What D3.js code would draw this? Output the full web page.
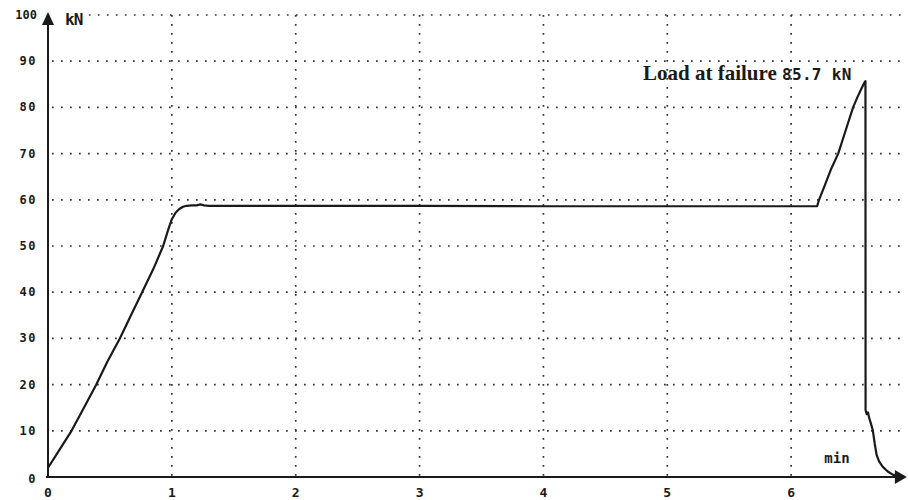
<!DOCTYPE html>
<html>
<head>
<meta charset="utf-8">
<script src="https://cdn.jsdelivr.net/npm/d3@7/dist/d3.min.js"></script>
<style>
  html, body { margin: 0; padding: 0; background: #fff; }
  svg { display: block; }
</style>
</head>
<body>
<svg id="chart" width="908" height="500"></svg>
<script>
// ---- data ----
const yTicks = [0, 10, 20, 30, 40, 50, 60, 70, 80, 90, 100];
const xTicks = [0, 1, 2, 3, 4, 5, 6];
const timeMin = [
  0, 0.05, 0.10, 0.19, 0.29, 0.39, 0.48, 0.58, 0.67, 0.76, 0.85, 0.93, 0.97, 1.00,
  1.03, 1.06, 1.09, 1.12, 1.16, 1.20, 1.23, 1.26, 1.30, 2.0, 3.0, 4.0, 5.0, 6.0, 6.21,
  6.225, 6.27, 6.32, 6.38, 6.44, 6.50, 6.54, 6.57, 6.59, 6.60,
  6.601, 6.61, 6.62, 6.63, 6.645, 6.66, 6.675, 6.69, 6.71, 6.74, 6.78, 6.82, 6.88
];
const loadKN = [
  2.0, 4.1, 6.2, 10.0, 15.0, 20.0, 25.0, 30.0, 35.0, 40.0, 45.0, 50.0, 53.5, 55.8,
  57.2, 58.0, 58.5, 58.7, 58.8, 58.8, 59.0, 58.8, 58.7, 58.7, 58.7, 58.6, 58.6, 58.6, 58.6,
  60.0, 63.0, 66.5, 70.0, 75.0, 80.0, 82.5, 84.2, 85.3, 85.7,
  14.5, 13.6, 14.0, 12.8, 11.5, 10.0, 7.2, 4.8, 3.4, 2.2, 1.2, 0.5, 0.1
];
const yLabel = "kN";
const xLabel = "min";
const notePrefix = "Load at failure";
const noteValue = "85.7 kN";

// ---- layout ----
const svg = d3.select("#chart");
const x = d3.scaleLinear().domain([0, 7]).range([48, 915]);
const y = d3.scaleLinear().domain([0, 100]).range([477, 15]);
const xEnd = 6.91;
const ink = "#1a1a1a";
const mono = "'DejaVu Sans Mono', monospace";

// grid
const grid = svg.append("g").attr("stroke", "#333").attr("stroke-width", 1.7)
  .attr("stroke-dasharray", "1.7,7.3").attr("fill", "none");
grid.selectAll("line.h").data(yTicks.filter(d => d > 0)).join("line")
  .attr("class", "h")
  .attr("x1", d => d === 100 ? x(0.33) : x(0) + 4).attr("x2", x(xEnd))
  .attr("y1", d => y(d)).attr("y2", d => y(d));
grid.selectAll("line.v").data(xTicks.filter(d => d > 0)).join("line")
  .attr("class", "v")
  .attr("x1", d => x(d)).attr("x2", d => x(d))
  .attr("y1", y(100)).attr("y2", y(0));

// axes
svg.append("line").attr("x1", x(0)).attr("x2", x(0)).attr("y1", y(0)).attr("y2", y(100) + 6)
  .attr("stroke", ink).attr("stroke-width", 2);
svg.append("line").attr("x1", x(0) - 2).attr("x2", x(xEnd) - 6).attr("y1", y(0)).attr("y2", y(0))
  .attr("stroke", ink).attr("stroke-width", 2);
// arrows
svg.append("path")
  .attr("d", `M${x(0)},${y(100) - 3} L${x(0) - 6},${y(100) + 10} L${x(0) + 6},${y(100) + 10} Z`)
  .attr("fill", ink);
svg.append("path")
  .attr("d", `M${x(xEnd) + 3},${y(0)} L${x(xEnd) - 9},${y(0) - 7} L${x(xEnd) - 9},${y(0) + 7} Z`)
  .attr("fill", ink);

// tick labels
svg.append("g").selectAll("text").data(yTicks).join("text")
  .attr("x", 37).attr("y", d => y(d) + 4 + (d === 0 ? 2 : 0))
  .attr("text-anchor", "end")
  .attr("font-family", mono).attr("font-weight", "bold").attr("font-size", 12)
  .attr("letter-spacing", d => d === 100 ? 0 : 1.5)
  .attr("fill", ink).text(d => d);
svg.append("g").selectAll("text").data(xTicks).join("text")
  .attr("x", d => x(d)).attr("y", 497)
  .attr("text-anchor", "middle")
  .attr("font-family", mono).attr("font-weight", "bold").attr("font-size", 13)
  .attr("fill", ink).text(d => d);

// axis titles
svg.append("text").attr("x", 65).attr("y", 25)
  .attr("font-family", mono).attr("font-weight", "bold").attr("font-size", 16)
  .attr("letter-spacing", -1)
  .attr("fill", ink).text(yLabel);
svg.append("text").attr("x", x(6.37)).attr("y", 463)
  .attr("text-anchor", "middle")
  .attr("font-family", mono).attr("font-weight", "bold").attr("font-size", 14)
  .attr("fill", ink).text(xLabel);

// annotation
const note = svg.append("text").attr("x", 643).attr("y", 80).attr("fill", ink);
note.append("tspan").attr("font-family", "'Liberation Serif', 'Times New Roman', serif")
  .attr("font-size", 21).attr("font-weight", "bold").text(notePrefix + " ");
note.append("tspan").attr("font-family", mono).attr("font-weight", "bold")
  .attr("font-size", 16).attr("letter-spacing", 0.3).text(noteValue);

// data line
const pts = timeMin.map((t, i) => [t, loadKN[i]]);
svg.append("path").datum(pts)
  .attr("fill", "none").attr("stroke", ink).attr("stroke-width", 2.2)
  .attr("stroke-linejoin", "round")
  .attr("d", d3.line().x(d => x(d[0])).y(d => y(d[1])));
</script>
</body>
</html>
